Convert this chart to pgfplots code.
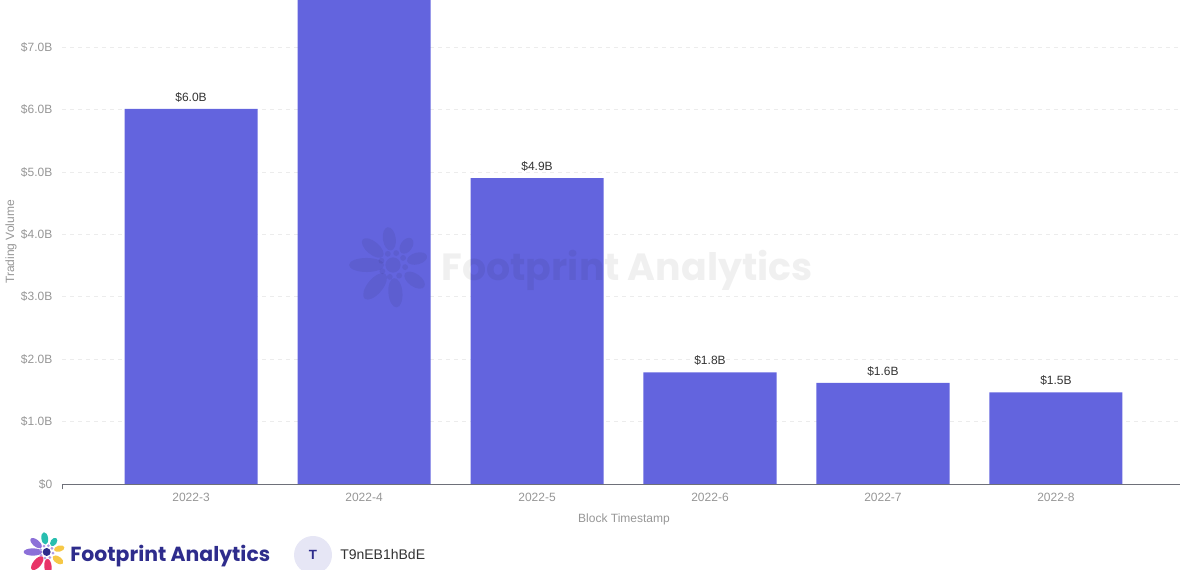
\documentclass[border=0pt]{standalone}
\usepackage{pgfplots}
\pgfplotsset{compat=1.18}
\usepackage{fontspec}
\setmainfont{Liberation Sans}
\newfontfamily\logofont{Poppins}

\definecolor{barc}{RGB}{99,100,222}
\definecolor{tickc}{RGB}{150,150,150}
\definecolor{axisc}{RGB}{110,112,121}
\definecolor{gridc}{RGB}{236,236,236}
\definecolor{valc}{RGB}{51,51,51}
\definecolor{logoc}{RGB}{46,44,140}
\definecolor{pur}{RGB}{140,112,216}
\definecolor{teal}{RGB}{40,190,175}
\definecolor{yel}{RGB}{246,200,70}
\definecolor{redp}{RGB}{232,52,104}
\definecolor{badge}{RGB}{230,230,245}

% logo petals, drawn round (0,0); #1 = colour style for all petals or empty
\newcommand{\fpicon}[1]{%
  \fill[pur,#1,rotate=180] (9,0) ellipse (6 and 2.4);
  \fill[pur,#1,rotate=140] (9,0) ellipse (4.5 and 2.2);
  \fill[teal,#1,rotate=98] (9,0) ellipse (4 and 2.2);
  \fill[teal,#1,rotate=55] (8,0) ellipse (3 and 2);
  \fill[yel,#1,rotate=15] (8.5,0) ellipse (3.5 and 2);
  \fill[yel,#1,rotate=-35] (9,0) ellipse (4 and 2.2);
  \fill[redp,#1,rotate=-85] (9.5,0) ellipse (5 and 2.4);
  \fill[redp,#1,rotate=-130] (9.5,0) ellipse (5.5 and 2.6);
  \fill[logoc,#1] (0,0) circle (2.6);
  \foreach \a in {160,115,75,35,-10,-60,-105,-150} \fill[pur!70,#1] (\a:4.2) circle (1);
}

\begin{document}
\begin{tikzpicture}[x=1pt,y=1pt]
\useasboundingbox (0,0) rectangle (900,427.5);
\begin{axis}[
    at={(46.5pt,64.5pt)}, anchor=south west,
    scale only axis, width=838.5pt, height=363pt,
    ybar, bar width=0.769,
    xmin=-0.746, xmax=5.717,
    ymin=0, ymax=7.756,
    xtick={0,...,5},
    xticklabels={2022-3,2022-4,2022-5,2022-6,2022-7,2022-8},
    ytick={0,...,7},
    yticklabels={\$0,\$1.0B,\$2.0B,\$3.0B,\$4.0B,\$5.0B,\$6.0B,\$7.0B},
    ymajorgrids, grid style={gridc, dashed, line width=0.6pt},
    major tick length=0pt,
    extra x ticks={-0.746}, extra x tick labels={},
    extra x tick style={major tick length=4pt, tick align=outside, tick style={axisc, line width=0.6pt}, grid=none},
    separate axis lines,
    axis x line*=bottom, axis y line*=left,
    x axis line style={axisc, line width=0.6pt, -},
    y axis line style={draw=none},
    tick label style={font=\fontsize{9}{10}\selectfont, text=tickc},
    xticklabel style={yshift=-3.5pt},
    yticklabel style={xshift=-3.75pt},
    nodes near coords,
    point meta=explicit symbolic,
    every node near coord/.append style={font=\fontsize{9}{10}\selectfont, text=valc, yshift=1.5pt},
    ]
\addplot[fill=barc, draw=none] coordinates {
    (0,6.01) [\$6.0B]
    (1,8.00) []
    (2,4.90) [\$4.9B]
    (3,1.79) [\$1.8B]
    (4,1.62) [\$1.6B]
    (5,1.47) [\$1.5B]
};
\end{axis}
% axis titles
\node[rotate=90, font=\fontsize{9}{10}\selectfont, text=tickc] at (8.25,246) {Trading Volume};
\node[font=\fontsize{9}{10}\selectfont, text=tickc] at (468,38.25) {Block Timestamp};
% watermark
\begin{scope}[shift={(294.75,228.75)}, scale=2.2]
  \fpicon{black, opacity=0.06}
\end{scope}
\node[font=\logofont\bfseries\fontsize{28.4}{28.4}\selectfont, text=black, opacity=0.06, anchor=west, inner sep=0] at (331,225) {Footprint Analytics};
% footer logo
\begin{scope}[shift={(35,13.5)}, scale=1.15]
  \fpicon{}
\end{scope}
\node[font=\logofont\bfseries\fontsize{15.3}{15.3}\selectfont, text=logoc, anchor=west, inner sep=0] at (52.5,10.5) {Footprint Analytics};
\fill[badge] (234.75,11.25) circle (14.25);
\node[font=\bfseries\fontsize{10}{10}\selectfont, text=logoc] at (234.75,11.25) {T};
\node[font=\fontsize{10.5}{11}\selectfont, text=valc, anchor=west, inner sep=0] at (255,11.5) {T9nEB1hBdE};
\end{tikzpicture}
\end{document}
